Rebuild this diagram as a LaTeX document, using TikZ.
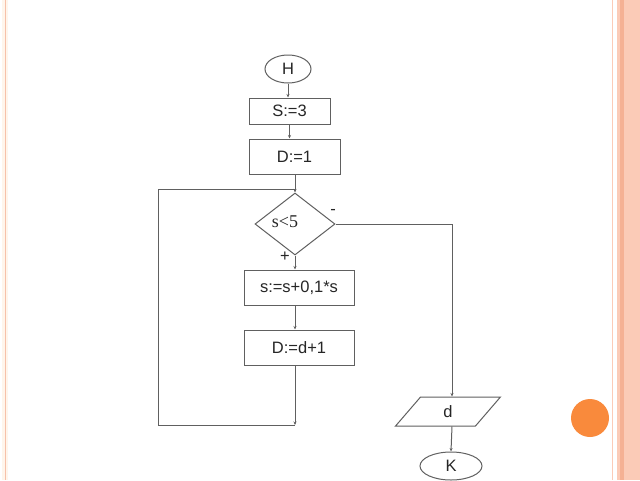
\documentclass[tikz,border=0pt]{standalone}
\usepackage{fontspec}
\setmainfont{Liberation Sans}
\newfontfamily\serifx{Liberation Serif}
\usetikzlibrary{shapes.geometric,arrows.meta}
\definecolor{ln}{HTML}{606060}
\definecolor{salmon}{HTML}{FBCBB7}
\definecolor{salmondk}{HTML}{F5B194}
\definecolor{orng}{HTML}{F98A3C}
\begin{document}
\begin{tikzpicture}[x=1pt,y=-1pt,
  every node/.style={font=\fontsize{16.5}{18}\selectfont, text=black!85},
  box/.style={draw=ln, line width=1pt, minimum height=26pt, inner sep=0pt},
  term/.style={draw=ln, line width=1pt, ellipse, inner sep=0pt},
  cond/.style={draw=ln, line width=1pt, diamond, minimum width=80pt, minimum height=62pt, inner sep=0pt, aspect=1.3},
  io/.style={draw=ln, line width=1pt, trapezium, trapezium left angle=71, trapezium right angle=109, minimum width=105pt, minimum height=29pt, inner sep=0pt, trapezium stretches=true},
  conn/.style={draw=ln, line width=1pt},
  arr/.style={conn, -{Stealth[length=3.5pt,width=3pt]}}]
\useasboundingbox (0,0) rectangle (640,480);
% slide decoration
\fill[white] (0,0) rectangle (640,480);
\fill[orange!8] (2,0) rectangle (8,480);
\draw[salmondk!80, line width=1pt] (5,0) -- (5,480);
\draw[salmon, line width=1.2pt] (612.5,0) -- (612.5,480);
\fill[salmon] (617,0) rectangle (640,480);
\fill[salmondk] (619.5,0) rectangle (623.5,480);
\fill[orng] (590,418) circle (19);
% nodes
\node[term, minimum width=46pt, minimum height=28pt] (H) at (288,69) {H};
\node[box, minimum width=81pt, minimum height=26pt] (S) at (289.5,111) {S:=3};
\node[box, minimum width=91pt, minimum height=35pt] (D) at (294.5,156.5) {D:=1};
\node[cond] (C) at (295,224) {};
\node[font=\serifx\fontsize{18}{20}\selectfont] at (285,222) {s<5};
\node[box, minimum width=110pt, minimum height=35pt] (A) at (299,287.5) {s:=s+0,1*s};
\node[box, minimum width=110pt, minimum height=35pt] (B) at (299,347.5) {D:=d+1};
\node[io] (O) at (448,411.5) {d};
\node[term, minimum width=62pt, minimum height=28pt] (K) at (451,466) {K};
\node at (333,212) {-};
\node at (285,257) {+};
\coordinate (j1) at (295,190);
\coordinate (bl) at (295,425);
\coordinate (lb) at (158,425);
\coordinate (lt) at (158,189);
\coordinate (rt) at (452,220);
% connectors
\draw[arr] (H.south) -- (S.north -| H.south);
\draw[arr] (S.south) -- (D.north -| S.south);
\draw[arr] (D.south -| j1) -- (C.north);
\draw[arr] (C.south) -- (A.north -| C.south);
\draw[arr] (A.south -| C.south) -- (B.north -| C.south);
\draw[arr] (B.south -| C.south) -- (bl);
\draw[conn] (bl) -- (lb) -- (lt) -- (295,189);
\draw[arr] (C.east) -- (C.east -| rt) -- (O.north -| rt);
\draw[arr] (O.south -| rt) -- (K.north);
\end{tikzpicture}
\end{document}
